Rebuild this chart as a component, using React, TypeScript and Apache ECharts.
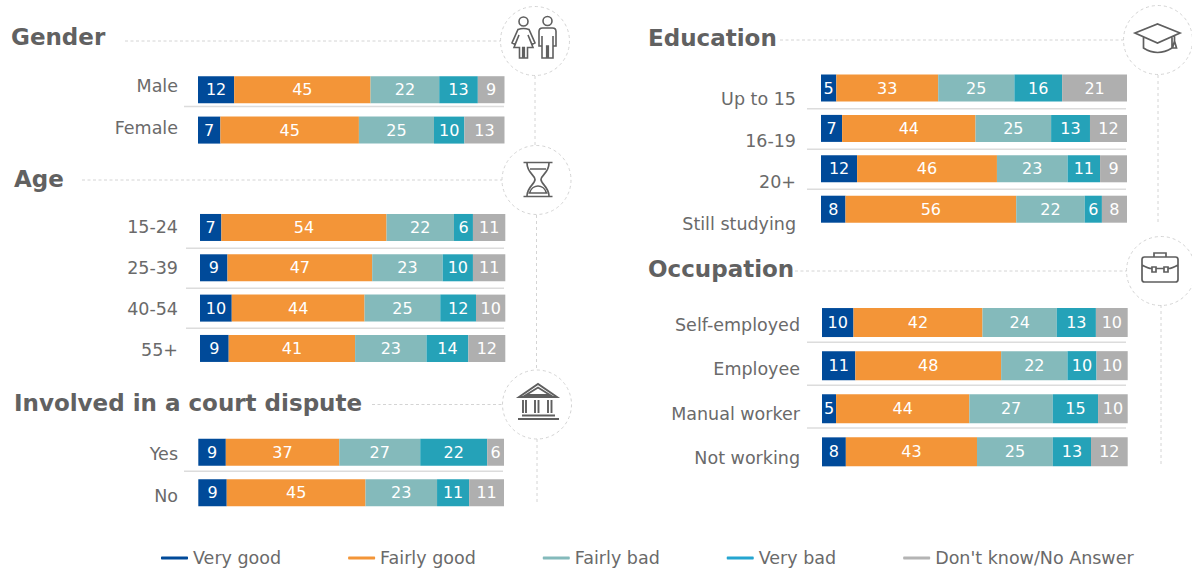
import React, { useEffect, useRef } from "react";
import * as echarts from "echarts";

const seriesNames = ["Very good", "Fairly good", "Fairly bad", "Very bad", "Don't know/No Answer"];
const seriesColors = ["#004a99", "#f39538", "#84babb", "#25a2b8", "#afafaf"];
const legendColors = ["#004a99", "#f39538", "#84babb", "#25a5d0", "#b4b4b4"];

const genderCategories = ["Male", "Female"];
const genderValues = [
  [11.8, 44.5, 22.4, 12.6, 8.7],
  [7.3, 45.2, 24.5, 9.9, 13.1],
];
const ageCategories = ["15-24", "25-39", "40-54", "55+"];
const ageValues = [
  [7.0, 54.1, 22.1, 6.2, 10.6],
  [9.0, 47.4, 23.1, 9.9, 10.6],
  [10.4, 43.5, 24.8, 11.7, 9.6],
  [9.4, 41.4, 23.4, 13.7, 12.1],
];
const courtCategories = ["Yes", "No"];
const courtValues = [
  [9.0, 37.1, 26.5, 21.9, 5.5],
  [9.3, 45.4, 23.4, 10.5, 11.4],
];
const educationCategories = ["Up to 15", "16-19", "20+", "Still studying"];
const educationValues = [
  [5.0, 33.3, 24.9, 15.6, 21.2],
  [6.9, 43.6, 24.7, 12.7, 12.1],
  [11.8, 45.7, 23.1, 10.6, 8.8],
  [8.0, 55.8, 22.4, 5.6, 8.2],
];
const occupationCategories = ["Self-employed", "Employee", "Manual worker", "Not working"];
const occupationValues = [
  [10.3, 42.2, 24.3, 12.8, 10.4],
  [10.9, 47.7, 21.7, 9.5, 10.2],
  [4.6, 43.6, 27.3, 14.8, 9.7],
  [7.8, 42.9, 24.8, 12.5, 12.0],
];

const blocks = [
  { title: "Gender", cats: genderCategories, vals: genderValues, left: 198, right: 504.5, top: 69.5, h: 80.8, bw: 27,
    labelRight: 178, labelTop: 65, labelH: 84, titleX: 11, titleY: 37, lineFrom: 125,
    cx: 535, cy: 41, seps: [106.5], sepLeft: 184, sepRight: 504, vline: [76, 146] },
  { title: "Age", cats: ageCategories, vals: ageValues, left: 200, right: 505.3, top: 207.3, h: 161.3, bw: 27,
    labelRight: 178, labelTop: 206.5, labelH: 164, titleX: 14, titleY: 179, lineFrom: 82,
    cx: 536.5, cy: 180, seps: [248.3, 288.3, 328.3], sepLeft: 186, sepRight: 504, vline: [215, 370] },
  { title: "Involved in a court dispute", cats: courtCategories, vals: courtValues, left: 198.3, right: 504, top: 432, h: 81, bw: 27,
    labelRight: 178, labelTop: 433, labelH: 84, titleX: 14, titleY: 403, lineFrom: 372,
    cx: 537, cy: 404.5, seps: [471.3], sepLeft: 184, sepRight: 503, vline: [439, 503] },
  { title: "Education", cats: educationCategories, vals: educationValues, left: 821, right: 1127, top: 67.8, h: 161.6, bw: 27,
    labelRight: 796, labelTop: 78, labelH: 167, titleX: 648, titleY: 38, lineFrom: 780,
    cx: 1158, cy: 40, seps: [108.7, 149.3, 189.3], sepLeft: 807, sepRight: 1126, vline: [75, 222] },
  { title: "Occupation", cats: occupationCategories, vals: occupationValues, left: 822, right: 1127.7, top: 301, h: 172.4, bw: 29,
    labelRight: 800, labelTop: 303, labelH: 177, titleX: 648, titleY: 269, lineFrom: 795,
    cx: 1161, cy: 271, seps: [342.3, 385.3, 428], sepLeft: 807, sepRight: 1126, vline: [305, 465] },
];

const ICONS: Record<string, string> = {
  iconGender:
    "M528 21.5 A4.5 4.5 0 1 1 519 21.5 A4.5 4.5 0 1 1 528 21.5 Z " +
    "M518 29.5 Q523.5 27.5 529 29.5 L535 43 L532 44.5 L528 35 L533 47.5 L527.5 47.5 L527.5 58 L524.3 58 L524.3 47.5 L522.7 47.5 L522.7 58 L519.5 58 L519.5 47.5 L514 47.5 L519 35 L515 44.5 L512 43 Z " +
    "M552 21 A4.5 4.5 0 1 1 543 21 A4.5 4.5 0 1 1 552 21 Z " +
    "M539 31.5 Q539 28 542.5 28 L552.5 28 Q556 28 556 31.5 L556 46 L553 46 L553 36 L553 58 L548.3 58 L548.3 46 L546.7 46 L546.7 58 L542 58 L542 36 L542 46 L539 46 Z",
  iconHourglass:
    "M523.5 162.5 L552.5 162.5 M523.5 196.5 L552.5 196.5 " +
    "M527 163 C527 173 535 175 535 179.5 C535 184 527 187 527 196 " +
    "M549 163 C549 173 541 175 541 179.5 C541 184 549 187 549 196 " +
    "M530 169 L546 169 M529.5 193 C531 188 535 186 538 186 C541 186 545 188 546.5 193 Z",
  iconCourt:
    "M519 397 L538 384 L557 397 Z M526 395 L538 387.5 L550 395 Z " +
    "M523 400 L523 413 M526 400 L526 413 M535 400 L535 413 M538.5 400 L538.5 413 M548 400 L548 413 M551.5 400 L551.5 413 " +
    "M522 415.5 L555 415.5 M518 419 L559 419",
  iconCap:
    "M1135 33 L1157.5 24 L1180 33 L1157.5 43 Z " +
    "M1143.5 37.5 L1143.5 48 Q1157.5 57 1172 48 L1172 37.5 " +
    "M1174.5 35 L1174.5 42 M1172.5 48 L1174.5 41 L1176.5 48 Z",
  iconCase:
    "M1144.5 257 L1175.5 257 Q1178 257 1178 259.5 L1178 279.5 Q1178 282 1175.5 282 L1144.5 282 Q1142 282 1142 279.5 L1142 259.5 Q1142 257 1144.5 257 Z " +
    "M1154 257 L1154 253 L1166 253 L1166 257 " +
    "M1142 265 Q1148 268.5 1152 268.5 M1156 268.5 L1164 268.5 M1168 268.5 Q1172 268.5 1178 265 " +
    "M1152 267 L1156 267 L1156 272 L1152 272 Z M1164 267 L1168 267 L1168 272 L1164 272 Z",
};
const iconNames = ["iconGender", "iconHourglass", "iconCourt", "iconCap", "iconCase"];
const iconWidths = [1.6, 1.7, 1.9, 1.7, 1.7];
Object.keys(ICONS).forEach((k) => {
  echarts.graphic.registerShape(k, echarts.graphic.extendPath(ICONS[k] as any, {}) as any);
});

const FONT = "'DejaVu Sans', Verdana, sans-serif";
const TEXT = "#6a6a6a";
const TITLE = "#616161";
const DASH = "#d4d4d4";
const R = 34.5;

function buildOption() {
  const grid: any[] = [];
  const xAxis: any[] = [];
  const yAxis: any[] = [];
  const series: any[] = [];
  const elements: any[] = [];

  blocks.forEach((b, i) => {
    const idx = grid.length;
    grid.push({ left: b.left, top: b.top, width: b.right - b.left, height: b.h });
    xAxis.push({ type: "value", gridIndex: idx, min: 0, max: 100, show: false });
    yAxis.push({ type: "category", gridIndex: idx, inverse: true, data: b.cats, show: false });

    const lidx = grid.length;
    grid.push({ left: b.labelRight, top: b.labelTop, width: 10, height: b.labelH });
    xAxis.push({ type: "value", gridIndex: lidx, min: 0, max: 100, show: false });
    yAxis.push({
      type: "category", gridIndex: lidx, inverse: true, data: b.cats,
      axisLine: { show: false }, axisTick: { show: false },
      axisLabel: { margin: 0, color: TEXT, fontFamily: FONT, fontSize: 17.5 },
    });

    seriesNames.forEach((name, s) => {
      series.push({
        name, type: "bar", stack: "s" + i, xAxisIndex: idx, yAxisIndex: idx,
        barWidth: b.bw,
        itemStyle: { color: seriesColors[s] },
        label: {
          show: true, position: "inside", color: "#fff", fontFamily: FONT, fontSize: 16,
          formatter: (p: any) => String(Math.round(p.value)),
        },
        data: b.vals.map((row) => row[s]),
      });
    });

    elements.push({
      type: "text",
      style: { x: b.titleX, y: b.titleY, text: b.title, fill: TITLE, font: `bold 23px ${FONT}`, verticalAlign: "middle" },
    });
    elements.push({
      type: "line", shape: { x1: b.lineFrom, y1: b.cy, x2: b.cx - R, y2: b.cy },
      style: { stroke: DASH, lineWidth: 1, lineDash: [3, 2.5] },
    });
    elements.push({
      type: "circle", shape: { cx: b.cx, cy: b.cy, r: R },
      style: { fill: "none", stroke: DASH, lineWidth: 1, lineDash: [3, 3] },
    });
    elements.push({
      type: "line", shape: { x1: b.cx, y1: b.vline[0], x2: b.cx, y2: b.vline[1] },
      style: { stroke: DASH, lineWidth: 1, lineDash: [3, 3] },
    });
    b.seps.forEach((y) => {
      elements.push({
        type: "line", shape: { x1: b.sepLeft, y1: y, x2: b.sepRight, y2: y },
        style: { stroke: "#dcdcdc", lineWidth: 1.5 },
      });
    });
    elements.push({
      type: iconNames[i], x: 0, y: 0,
      style: { fill: "none", stroke: "#5f5f5f", lineWidth: iconWidths[i] },
    });
  });

  return {
    animation: false,
    backgroundColor: "#ffffff",
    grid, xAxis, yAxis, series,
    legend: {
      left: 161, top: 549, padding: 0,
      itemWidth: 27, itemHeight: 3, itemGap: 67, icon: "roundRect",
      textStyle: { color: TEXT, fontFamily: FONT, fontSize: 17.5 },
      data: seriesNames.map((name, i) => ({ name, itemStyle: { color: legendColors[i] } })),
      selectedMode: false,
    },
    graphic: { elements },
  };
}

export default function App() {
  const ref = useRef<HTMLDivElement>(null);
  useEffect(() => {
    const chart = echarts.init(ref.current!, undefined, { renderer: "svg" });
    chart.setOption(buildOption() as any);
    return () => chart.dispose();
  }, []);
  return <div ref={ref} style={{ position: "fixed", left: 0, top: 0, width: 1192, height: 570 }} />;
}
